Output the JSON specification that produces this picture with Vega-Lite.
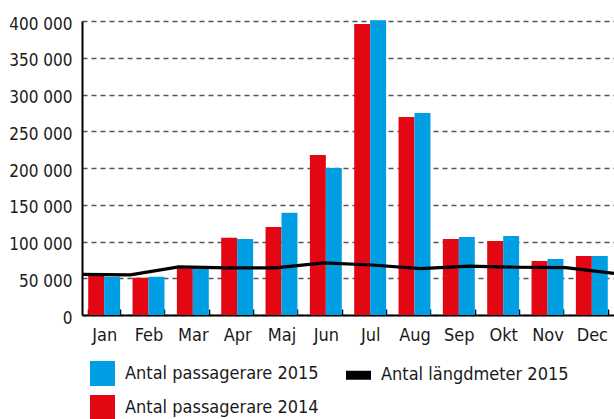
{
  "$schema": "https://vega.github.io/schema/vega-lite/v6.json",
  "width": 532,
  "height": 294,
  "autosize": {"type": "none"},
  "padding": {"left": 82, "top": 21, "right": 0, "bottom": 104},
  "background": "white",
  "config": {
    "view": {"stroke": null},
    "font": "DejaVu Sans Condensed, Liberation Sans",
    "locale": {"number": {"decimal": ",", "thousands": " ", "grouping": [3], "currency": ["", " kr"]}},
    "axisY": {
      "title": null,
      "values": [0, 50000, 100000, 150000, 200000, 250000, 300000, 350000, 400000],
      "format": ",d", "grid": true, "gridDash": [5, 4], "gridColor": "#555555", "gridWidth": 1.5,
      "domainColor": "black", "domainWidth": 2, "ticks": false, "labelOverlap": false,
      "labelFontSize": 17, "labelColor": "#1a1a1a", "labelPadding": 10, "labelOffset": 3
    }
  },
  "datasets": {
    "bars": [
      {"month": "Jan", "series": "Antal passagerare 2014", "value": 53500},
      {"month": "Jan", "series": "Antal passagerare 2015", "value": 52000},
      {"month": "Feb", "series": "Antal passagerare 2014", "value": 50700},
      {"month": "Feb", "series": "Antal passagerare 2015", "value": 52000},
      {"month": "Mar", "series": "Antal passagerare 2014", "value": 63500},
      {"month": "Mar", "series": "Antal passagerare 2015", "value": 63500},
      {"month": "Apr", "series": "Antal passagerare 2014", "value": 105200},
      {"month": "Apr", "series": "Antal passagerare 2015", "value": 103400},
      {"month": "Maj", "series": "Antal passagerare 2014", "value": 119700},
      {"month": "Maj", "series": "Antal passagerare 2015", "value": 139200},
      {"month": "Jun", "series": "Antal passagerare 2014", "value": 217700},
      {"month": "Jun", "series": "Antal passagerare 2015", "value": 200000},
      {"month": "Jul", "series": "Antal passagerare 2014", "value": 395900},
      {"month": "Jul", "series": "Antal passagerare 2015", "value": 401000},
      {"month": "Aug", "series": "Antal passagerare 2014", "value": 269400},
      {"month": "Aug", "series": "Antal passagerare 2015", "value": 274800},
      {"month": "Sep", "series": "Antal passagerare 2014", "value": 103400},
      {"month": "Sep", "series": "Antal passagerare 2015", "value": 106100},
      {"month": "Okt", "series": "Antal passagerare 2014", "value": 100700},
      {"month": "Okt", "series": "Antal passagerare 2015", "value": 107500},
      {"month": "Nov", "series": "Antal passagerare 2014", "value": 73500},
      {"month": "Nov", "series": "Antal passagerare 2015", "value": 76200},
      {"month": "Dec", "series": "Antal passagerare 2014", "value": 80300},
      {"month": "Dec", "series": "Antal passagerare 2015", "value": 80300}
    ],
    "line": [
      {"month": "Jan", "series": "Antal längdmeter 2015", "value": 55400},
      {"month": "Feb", "series": "Antal längdmeter 2015", "value": 54500},
      {"month": "Mar", "series": "Antal längdmeter 2015", "value": 65500},
      {"month": "Apr", "series": "Antal längdmeter 2015", "value": 64200},
      {"month": "Maj", "series": "Antal längdmeter 2015", "value": 64000},
      {"month": "Jun", "series": "Antal längdmeter 2015", "value": 71000},
      {"month": "Jul", "series": "Antal längdmeter 2015", "value": 68000},
      {"month": "Aug", "series": "Antal längdmeter 2015", "value": 63000},
      {"month": "Sep", "series": "Antal längdmeter 2015", "value": 66500},
      {"month": "Okt", "series": "Antal längdmeter 2015", "value": 65000},
      {"month": "Nov", "series": "Antal längdmeter 2015", "value": 64400},
      {"month": "Dec", "series": "Antal längdmeter 2015", "value": 56700}
    ]
  },
  "layer": [
    {
      "data": {"name": "bars"},
      "mark": {"type": "bar"},
      "encoding": {
        "x": {
          "field": "month", "type": "nominal", "sort": null,
          "scale": {"paddingInner": 0.28, "paddingOuter": 0.14},
          "axis": {
            "title": null, "labelAngle": 0, "tickBand": "extent", "tickSize": -6,
            "tickColor": "black", "tickWidth": 1.5, "domainColor": "black", "domainWidth": 2,
            "labelFontSize": 18, "labelPadding": 17, "labelColor": "#1a1a1a", "grid": false
          }
        },
        "xOffset": {
          "field": "series", "type": "nominal",
          "sort": ["Antal passagerare 2014", "Antal passagerare 2015"],
          "scale": {"paddingInner": 0, "paddingOuter": 0}
        },
        "y": {
          "field": "value", "type": "quantitative",
          "scale": {"domain": [0, 400000], "nice": false},
          "axis": {"values": [0, 50000, 100000, 150000, 200000, 250000, 300000, 350000, 400000]}
        },
        "color": {
          "field": "series", "type": "nominal",
          "scale": {
            "domain": ["Antal passagerare 2015", "Antal passagerare 2014", "Antal längdmeter 2015"],
            "range": ["#009FE3", "#E30613", "#000000"]
          },
          "legend": {
            "orient": "none", "legendX": 8, "legendY": 340, "columns": 2, "title": null,
            "symbolSize": 625, "symbolType": "square", "labelFontSize": 18, "labelOffset": 10,
            "rowPadding": 9, "columnPadding": 27, "padding": 0, "labelColor": "#1a1a1a",
            "symbolStrokeWidth": 0, "labelLimit": 400,
            "encode": {
              "symbols": {
                "update": {
                  "shape": {"signal": "datum.value === 'Antal längdmeter 2015' ? 'M-1,-0.36H1V0.36H-1Z' : 'square'"},
                  "fill": {"signal": "scale('color', datum.value)"},
                  "fillOpacity": {"value": 1},
                  "strokeWidth": {"value": 0}
                }
              }
            }
          }
        }
      }
    },
    {
      "data": {"name": "line"},
      "mark": {"type": "line", "strokeWidth": 3.2},
      "encoding": {
        "x": {"field": "month", "type": "ordinal", "sort": null, "scale": {"type": "point", "padding": 0}, "axis": null},
        "y": {
          "field": "value", "type": "quantitative",
          "axis": {"values": [0, 50000, 100000, 150000, 200000, 250000, 300000, 350000, 400000]}
        },
        "color": {"field": "series", "type": "nominal"}
      }
    }
  ],
  "resolve": {"scale": {"x": "independent"}}
}
